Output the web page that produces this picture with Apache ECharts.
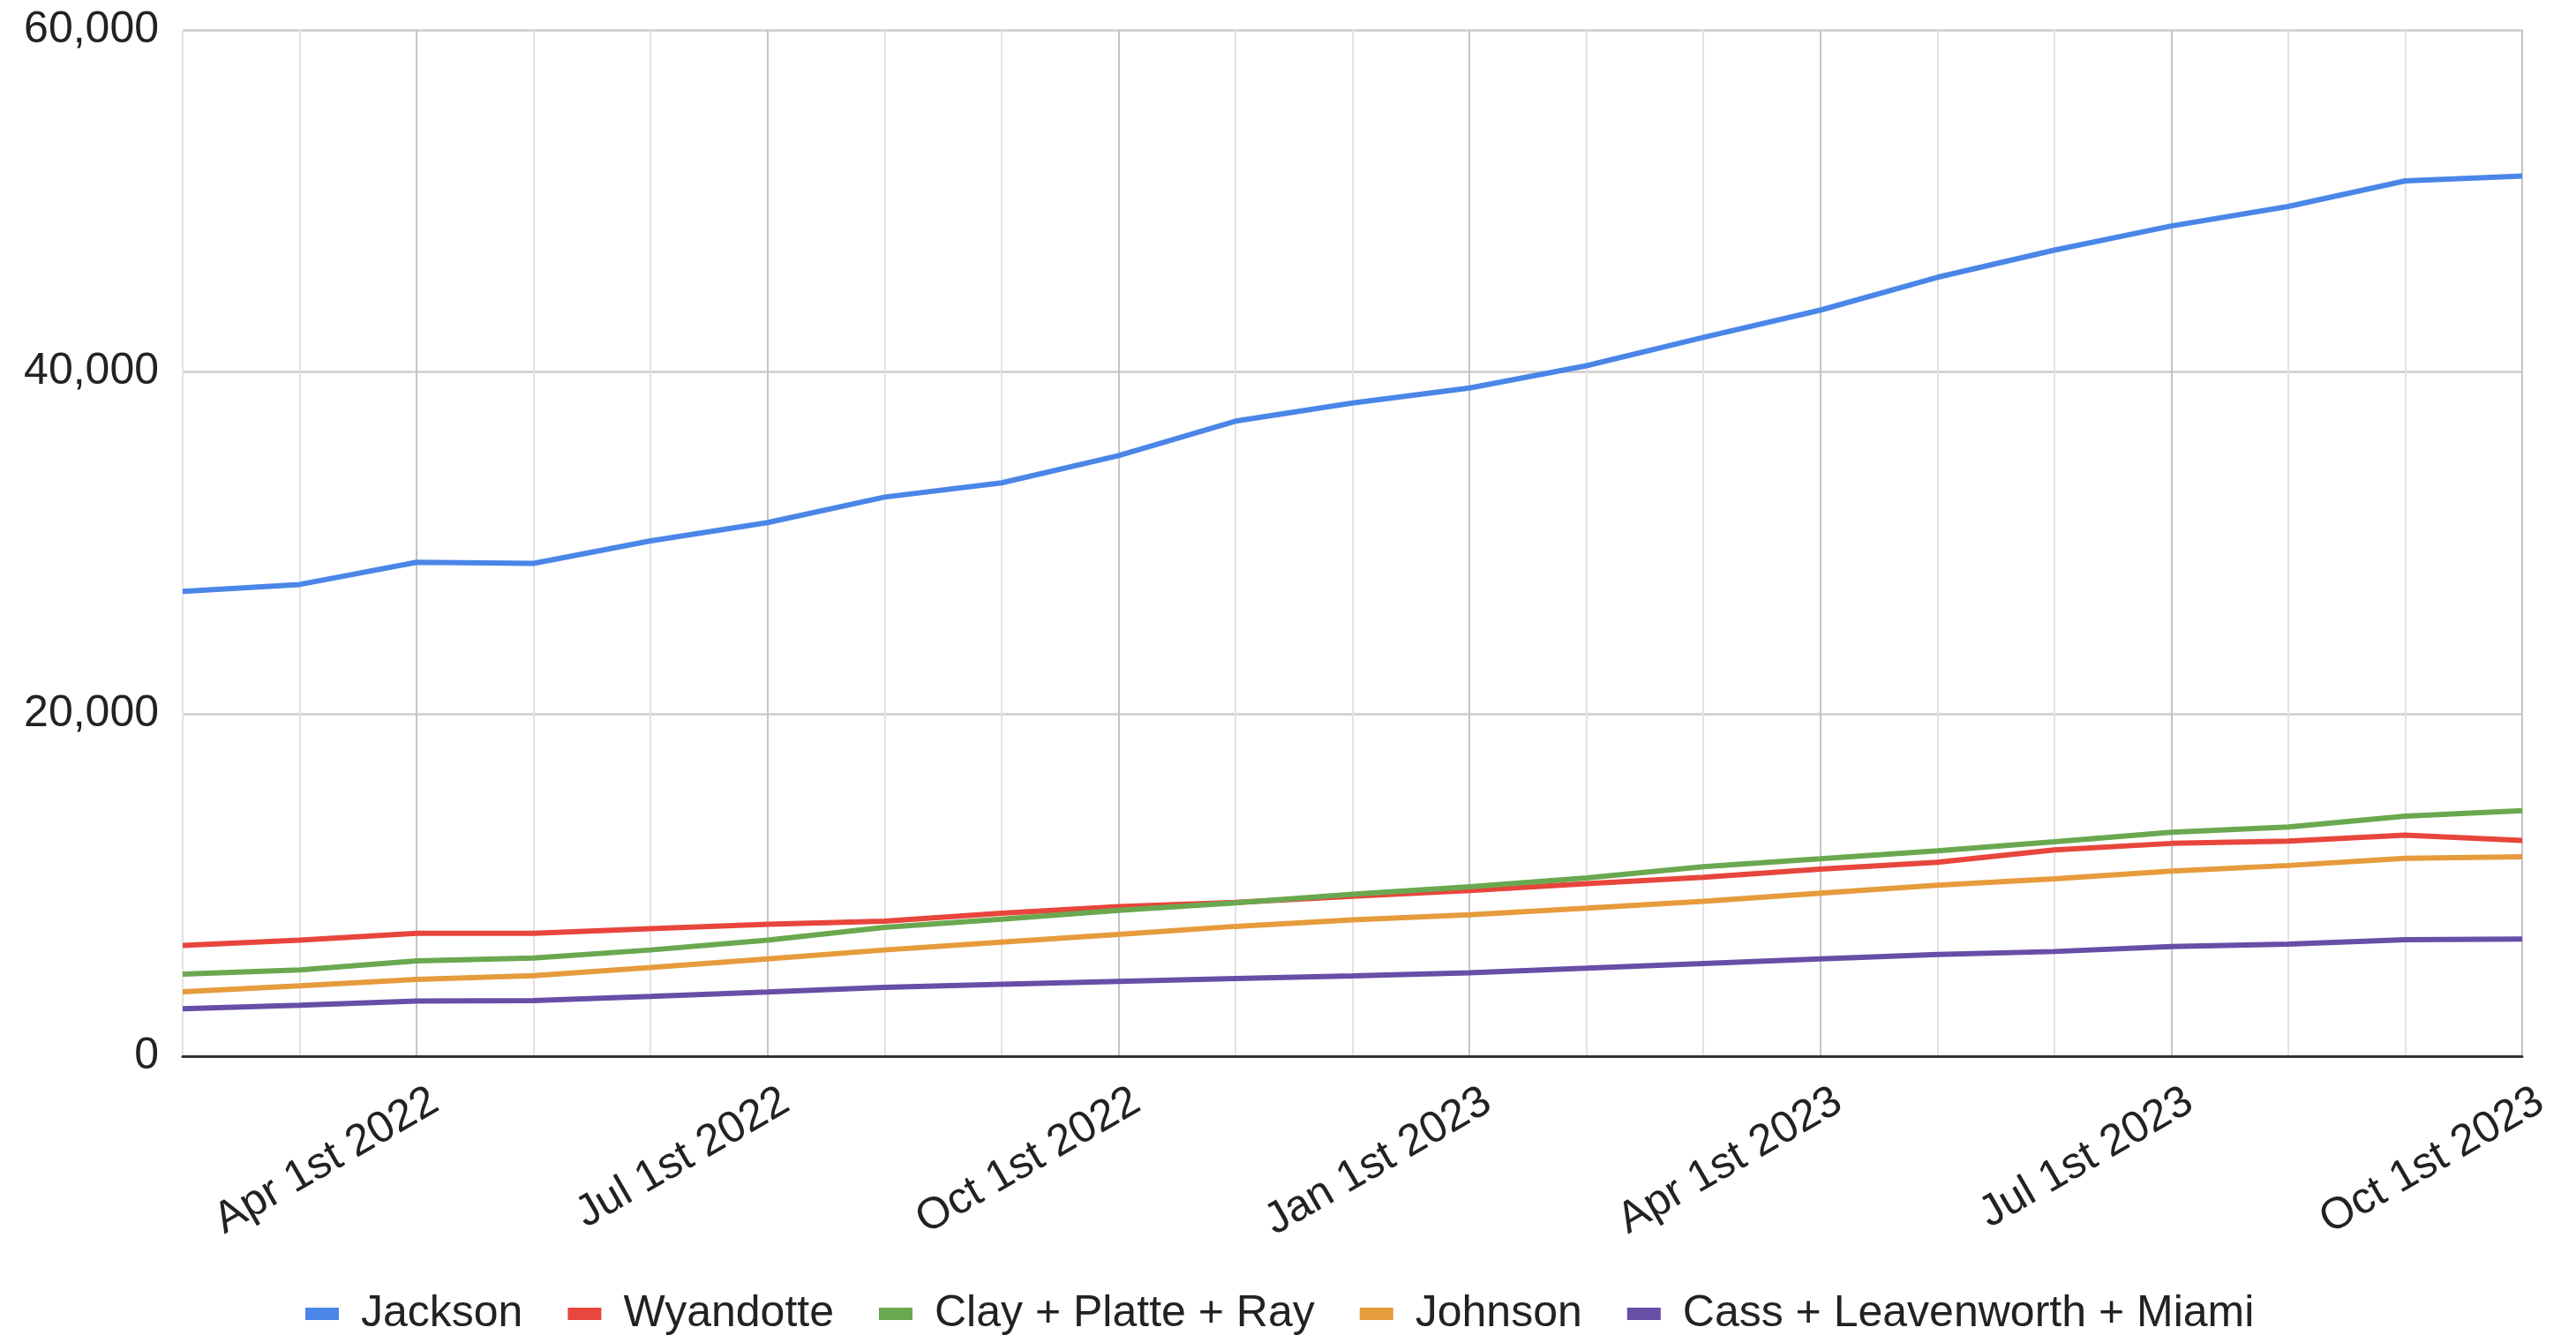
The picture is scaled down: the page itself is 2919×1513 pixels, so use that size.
<!DOCTYPE html>
<html>
<head>
<meta charset="utf-8">
<script src="https://cdn.jsdelivr.net/npm/echarts@6/dist/echarts.min.js"></script>
<style>
html,body{margin:0;padding:0;background:#fff;}
#chart{width:2919px;height:1513px;}
</style>
</head>
<body>
<div id="chart"></div>
<script>
const categories = ['Feb 1st 2022','Mar 1st 2022','Apr 1st 2022','May 1st 2022','Jun 1st 2022','Jul 1st 2022','Aug 1st 2022','Sep 1st 2022','Oct 1st 2022','Nov 1st 2022','Dec 1st 2022','Jan 1st 2023','Feb 1st 2023','Mar 1st 2023','Apr 1st 2023','May 1st 2023','Jun 1st 2023','Jul 1st 2023','Aug 1st 2023','Sep 1st 2023','Oct 1st 2023'];
const tickLabels = ['Apr 1st 2022','Jul 1st 2022','Oct 1st 2022','Jan 1st 2023','Apr 1st 2023','Jul 1st 2023','Oct 1st 2023'];
const yTicks = [0, 20000, 40000, 60000];
const seriesNames = ['Jackson','Wyandotte','Clay + Platte + Ray','Johnson','Cass + Leavenworth + Miami'];
const jackson = [27180,27580,28880,28810,30130,31200,32690,33520,35110,37130,38190,39070,40370,42030,43620,45540,47130,48540,49680,51180,51460];
const wyandotte = [6470,6780,7190,7190,7450,7710,7890,8360,8750,8990,9350,9680,10080,10460,10940,11340,12060,12440,12570,12920,12610];
const clay = [4800,5040,5570,5740,6210,6780,7530,8010,8530,8960,9470,9910,10420,11080,11540,12010,12540,13090,13400,14030,14360];
const johnson = [3770,4110,4490,4710,5180,5690,6210,6670,7120,7590,7970,8270,8650,9050,9530,10000,10370,10820,11150,11570,11660];
const cass = [2770,2980,3230,3250,3490,3750,4020,4200,4370,4540,4700,4870,5140,5420,5690,5950,6120,6410,6550,6810,6850];
const colors = ['#4a86e8','#e8453c','#6aa84f','#e69b3c','#674ea7'];

const FONT = '"Liberation Sans", Arial, sans-serif';
const chart = echarts.init(document.getElementById('chart'), null, {renderer:'canvas'});
const values = [jackson, wyandotte, clay, johnson, cass];
chart.setOption({
  animation: false,
  backgroundColor: '#ffffff',
  color: colors,
  grid: {left: 207, right: 61, top: 34, bottom: 316, containLabel: false},
  legend: {
    top: 1459, left: 341,
    icon: 'rect', itemWidth: 38, itemHeight: 14, itemGap: 51,
    textStyle: {fontFamily: FONT, fontSize: 50, color: '#222', padding: [0,0,0,20]},
    data: seriesNames
  },
  xAxis: {
    type: 'category', boundaryGap: false, data: categories,
    axisLine: {show: true, lineStyle: {color: '#333', width: 3}},
    axisTick: {show: false},
    axisLabel: {
      interval: function(i, v){ return tickLabels.indexOf(v) >= 0; },
      rotate: 30, margin: 60, fontFamily: FONT, fontSize: 50, color: '#222',
      padding: [0,-24,0,0]
    },
    splitLine: {show: true, interval: 0, lineStyle: {color: ['#e3e3e3','#e3e3e3','#c4c4c4'], width: 2}}
  },
  yAxis: {
    type: 'value', min: yTicks[0], max: yTicks[yTicks.length-1], interval: 20000,
    axisLine: {show: false}, axisTick: {show: false},
    axisLabel: {margin: 27, fontFamily: FONT, fontSize: 50, color: '#222',
      formatter: function(v){ return v.toLocaleString('en-US'); }},
    splitLine: {show: true, lineStyle: {color: '#cccccc', width: 2.5}}
  },
  series: seriesNames.map(function(n, i){
    return {name: n, type: 'line', data: values[i], symbol: 'none', showSymbol: false,
      lineStyle: {width: 6, color: colors[i]}, itemStyle: {color: colors[i]}, z: 2 + i};
  })
});
</script>
</body>
</html>
